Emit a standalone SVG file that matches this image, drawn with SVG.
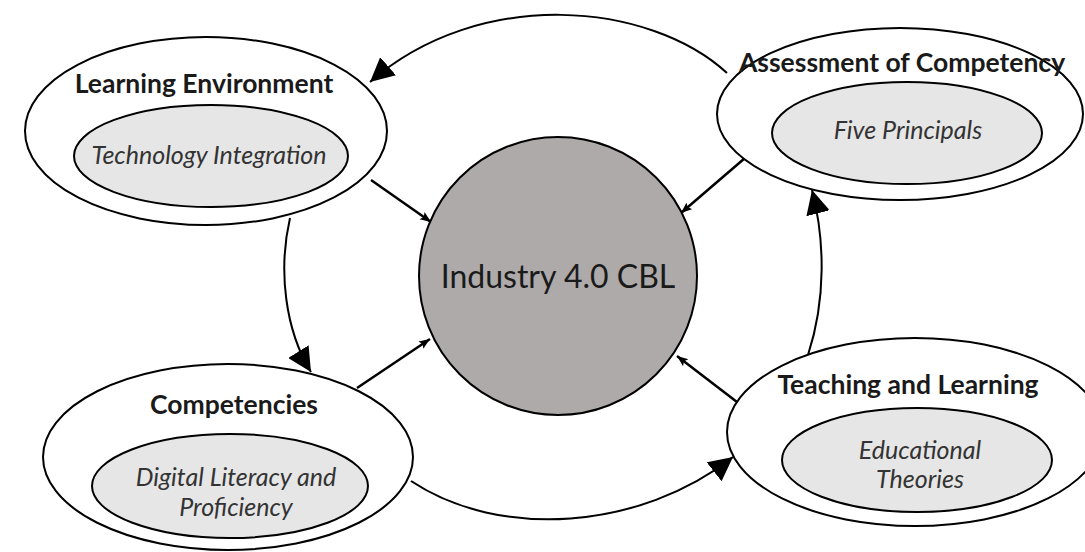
<svg xmlns="http://www.w3.org/2000/svg" width="1085" height="552" viewBox="0 0 1085 552">
  <style>
    .outer { fill: #ffffff; stroke: #000000; stroke-width: 2; }
    .inner { fill: #e6e6e6; stroke: #000000; stroke-width: 2; }
    .hub { fill: #aeaaaa; stroke: #000000; stroke-width: 2; }
    .title { font-family: Lato, "Liberation Sans", sans-serif; font-weight: bold; font-size: 26.5px; fill: #1a1a1a; text-anchor: middle; }
    .sub { font-family: Lato, "Liberation Sans", sans-serif; font-style: italic; font-size: 25px; fill: #333333; text-anchor: middle; }
    .hubtext { font-family: Lato, "Liberation Sans", sans-serif; font-size: 32px; fill: #1a1a1a; text-anchor: middle; }
    .cycle { fill: none; stroke: #000000; stroke-width: 2; marker-end: url(#bigHead); }
    .spoke { fill: none; stroke: #000000; stroke-width: 2.5; marker-end: url(#smallHead); }
  </style>
  <defs>
    <marker id="bigHead" viewBox="0 0 10 10" refX="10" refY="5" markerWidth="24" markerHeight="24" markerUnits="userSpaceOnUse" orient="auto">
      <path d="M0,0 L10,5 L0,10 Z" fill="#000000"/>
    </marker>
    <marker id="smallHead" viewBox="0 0 10 10" refX="10" refY="5" markerWidth="11" markerHeight="11" markerUnits="userSpaceOnUse" orient="auto">
      <path d="M0,1 L10,5 L0,9 L2,5 Z" fill="#000000"/>
    </marker>
  </defs>

  <rect width="1085" height="552" fill="#ffffff"/>

  <!-- cycle and spoke connectors -->
  <g id="connectors">
    <path class="cycle" d="M727,73 C650,2 480,-14 370,82"/>
    <path class="cycle" d="M290,218 C278,270 285,330 311,372"/>
    <path class="cycle" d="M411,481 C500,540 640,530 733,457"/>
    <path class="cycle" d="M808,355 C826,300 825,240 812,190"/>
    <path class="spoke" d="M371,180 L431,222"/>
    <path class="spoke" d="M357,388 L430,339"/>
    <path class="spoke" d="M745,158 L681,213"/>
    <path class="spoke" d="M737,402 L677,356"/>
  </g>

  <g id="hub">
    <circle class="hub" cx="558" cy="276" r="139"/>
    <text class="hubtext" x="558" y="288">Industry 4.0 CBL</text>
  </g>

  <g id="learning-environment">
    <ellipse class="outer" cx="206" cy="131" rx="181" ry="94"/>
    <ellipse class="inner" cx="211" cy="156" rx="137" ry="51"/>
    <text class="title" x="204" y="93">Learning Environment</text>
    <text class="sub" x="209" y="164">Technology Integration</text>
  </g>

  <g id="assessment">
    <ellipse class="outer" cx="900" cy="114" rx="183" ry="86"/>
    <ellipse class="inner" cx="907" cy="133" rx="135" ry="51"/>
    <text class="title" x="902" y="72">Assessment of Competency</text>
    <text class="sub" x="908" y="139">Five Principals</text>
  </g>

  <g id="competencies">
    <ellipse class="outer" cx="228" cy="457" rx="185" ry="93"/>
    <ellipse class="inner" cx="230" cy="486" rx="138" ry="52"/>
    <text class="title" x="234" y="414">Competencies</text>
    <text class="sub" x="236" y="486">Digital Literacy and</text>
    <text class="sub" x="236" y="516">Proficiency</text>
  </g>

  <g id="teaching-learning">
    <ellipse class="outer" cx="915" cy="432" rx="188" ry="94"/>
    <ellipse class="inner" cx="917" cy="460" rx="135" ry="52"/>
    <text class="title" x="908" y="394">Teaching and Learning</text>
    <text class="sub" x="920" y="459">Educational</text>
    <text class="sub" x="920" y="488">Theories</text>
  </g>
</svg>
